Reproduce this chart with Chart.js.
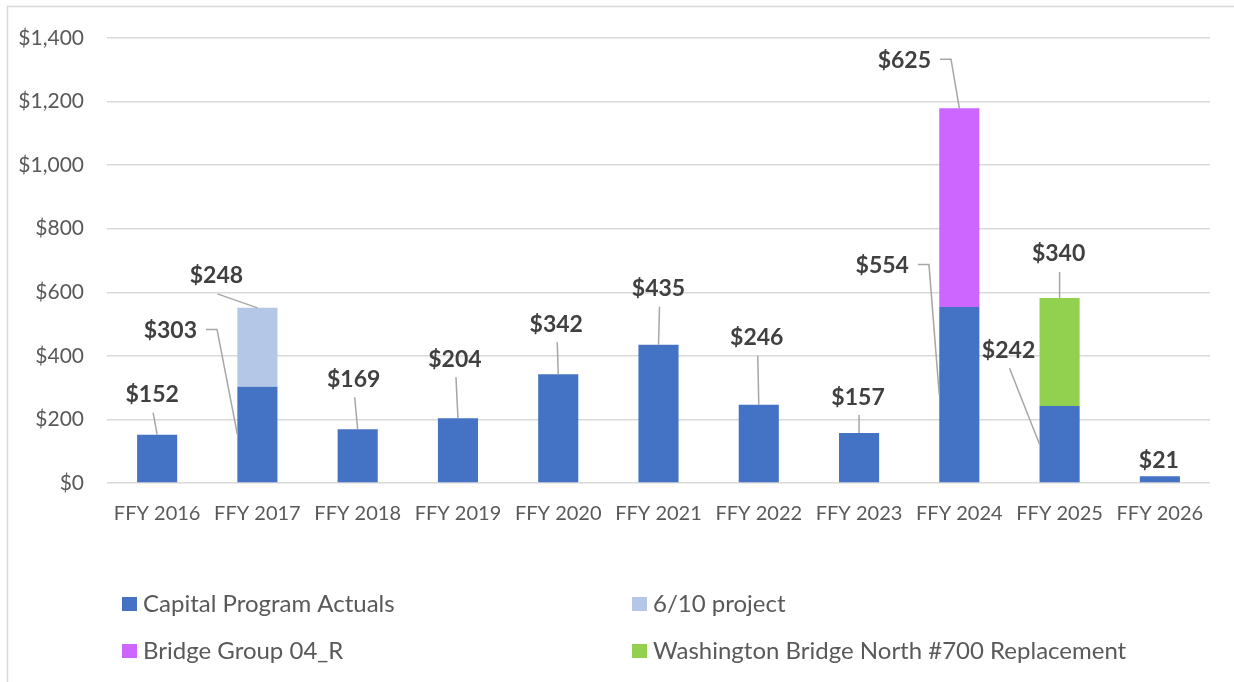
<!DOCTYPE html>
<html>
<head>
<meta charset="utf-8">
<script src="https://cdn.jsdelivr.net/npm/chart.js@4.4.1/dist/chart.umd.min.js"></script>
<style>
  html, body { margin: 0; padding: 0; background: #fff; }
  #wrap { width: 1234px; height: 682px; }
</style>
</head>
<body>
<div id="wrap"><canvas id="chart" width="1234" height="682"></canvas></div>
<script>
// Chart data
const years = ['FFY 2016', 'FFY 2017', 'FFY 2018', 'FFY 2019', 'FFY 2020', 'FFY 2021',
               'FFY 2022', 'FFY 2023', 'FFY 2024', 'FFY 2025', 'FFY 2026'];
const capitalActuals   = [152, 303, 169, 204, 342, 435, 246, 157, 554, 242, 21];
const project610       = [null, 248, null, null, null, null, null, null, null, null, null];
const bridgeGroup04R   = [null, null, null, null, null, null, null, null, 625, null, null];
const washingtonBridge = [null, null, null, null, null, null, null, null, null, 340, null];
const yTicks = [0, 200, 400, 600, 800, 1000, 1200, 1400];

const seriesLabels = ['Capital Program Actuals', '6/10 project', 'Bridge Group 04_R',
                      'Washington Bridge North #700 Replacement'];
const seriesColors = ['#4472C4', '#B4C7E7', '#CC66FF', '#92D050'];

// Where each data label sits, relative to its anchor point on the bar (px)
const labelPlacement = {
  '0-0':  { dx: -5,  dy: -40 },
  '0-1':  { dx: -67, dy: -104, anchor: 'leftMid', elbow: true },
  '1-1':  { dx: -41, dy: -32 },
  '0-2':  { dx: -4,  dy: -50 },
  '0-3':  { dx: -3,  dy: -59 },
  '0-4':  { dx: -2,  dy: -50 },
  '0-5':  { dx: 0,   dy: -56 },
  '0-6':  { dx: -2,  dy: -67 },
  '0-7':  { dx: -1,  dy: -36 },
  '0-8':  { dx: -57, dy: -129, anchor: 'leftMid', elbow: true },
  '2-8':  { dx: -55, dy: -48, elbow: true },
  '0-9':  { dx: -31, dy: -94, anchor: 'leftMid' },
  '3-9':  { dx: -1,  dy: -44 },
  '0-10': { dx: -1,  dy: -16, noLine: true }
};

const FONT = 'Lato, "Open Sans", sans-serif';

const framePlugin = {
  id: 'frame',
  beforeDraw(chart) {
    const ctx = chart.ctx;
    ctx.save();
    ctx.fillStyle = '#ffffff';
    ctx.fillRect(0, 0, chart.width, chart.height);
    ctx.strokeStyle = '#d9d9d9';
    ctx.lineWidth = 1.5;
    ctx.beginPath();
    ctx.moveTo(7.5, chart.height);
    ctx.lineTo(7.5, 6.5);
    ctx.lineTo(chart.width, 6.5);
    ctx.stroke();
    ctx.restore();
  }
};

const calloutPlugin = {
  id: 'callouts',
  afterDatasetsDraw(chart) {
    const ctx = chart.ctx;
    ctx.save();
    ctx.font = 'bold 23px ' + FONT;
    ctx.textAlign = 'center';
    ctx.textBaseline = 'middle';
    chart.data.datasets.forEach((ds, di) => {
      const meta = chart.getDatasetMeta(di);
      ds.data.forEach((v, i) => {
        if (v === null || v === undefined) return;
        const el = meta.data[i];
        const p = labelPlacement[di + '-' + i] || { dx: 0, dy: -40 };
        let ax = el.x, ay = el.y;
        if (p.anchor === 'leftMid') {
          ax = el.x - el.width / 2;
          ay = (el.y + el.base) / 2;
        }
        const tx = ax + p.dx, ty = ay + p.dy;
        const text = '$' + v.toLocaleString('en-US');
        if (!p.noLine) {
          ctx.strokeStyle = '#a6a6a6';
          ctx.lineWidth = 1.5;
          ctx.beginPath();
          if (p.elbow) {
            const w = ctx.measureText(text).width;
            const sx = tx + w / 2 + 9;
            ctx.moveTo(sx, ty - 1);
            ctx.lineTo(sx + 11, ty - 1);
            ctx.lineTo(ax, ay);
          } else {
            ctx.moveTo(tx + 1, ty + 18);
            ctx.lineTo(ax, ay);
          }
          ctx.stroke();
        }
        ctx.fillStyle = '#404040';
        ctx.fillText(text, tx, ty);
      });
    });
    ctx.restore();
  }
};

const legendPlugin = {
  id: 'gridLegend',
  afterDraw(chart) {
    const ctx = chart.ctx;
    const cols = [122, 632];
    const rows = [604, 651];
    ctx.save();
    ctx.font = '24px ' + FONT;
    ctx.textBaseline = 'middle';
    ctx.textAlign = 'left';
    chart.data.datasets.forEach((ds, di) => {
      const x = cols[di % 2], y = rows[Math.floor(di / 2)];
      ctx.fillStyle = ds.backgroundColor;
      ctx.fillRect(x, y - 7, 15, 14);
      ctx.fillStyle = '#595959';
      ctx.fillText(ds.label, x + 21, y);
    });
    ctx.restore();
  }
};

const seriesData = [capitalActuals, project610, bridgeGroup04R, washingtonBridge];

new Chart(document.getElementById('chart'), {
  type: 'bar',
  data: {
    labels: years,
    datasets: seriesData.map((d, k) => ({
      label: seriesLabels[k],
      data: d,
      backgroundColor: seriesColors[k],
      borderWidth: 0,
      barPercentage: 0.8,
      categoryPercentage: 0.5
    }))
  },
  options: {
    responsive: false,
    animation: false,
    devicePixelRatio: 1,
    layout: { padding: { left: 8, top: 38, right: 24, bottom: 152 } },
    plugins: {
      legend: { display: false },
      tooltip: { enabled: false }
    },
    scales: {
      x: {
        stacked: true,
        grid: { display: false, drawTicks: false },
        border: { display: false },
        ticks: { color: '#595959', font: { family: FONT, size: 20 }, padding: 19 },
        afterFit(scale) { scale.height = 47; }
      },
      y: {
        stacked: true,
        min: yTicks[0],
        max: yTicks[yTicks.length - 1],
        afterBuildTicks(scale) { scale.ticks = yTicks.map(v => ({ value: v })); },
        grid: { color: '#d9d9d9', lineWidth: 1.5, drawTicks: false },
        border: { display: false },
        ticks: {
          color: '#595959',
          font: { family: FONT, size: 21 },
          padding: 23,
          callback: v => '$' + v.toLocaleString('en-US')
        },
        afterFit(scale) { scale.width = 99; }
      }
    }
  },
  plugins: [framePlugin, calloutPlugin, legendPlugin]
});
</script>
</body>
</html>
